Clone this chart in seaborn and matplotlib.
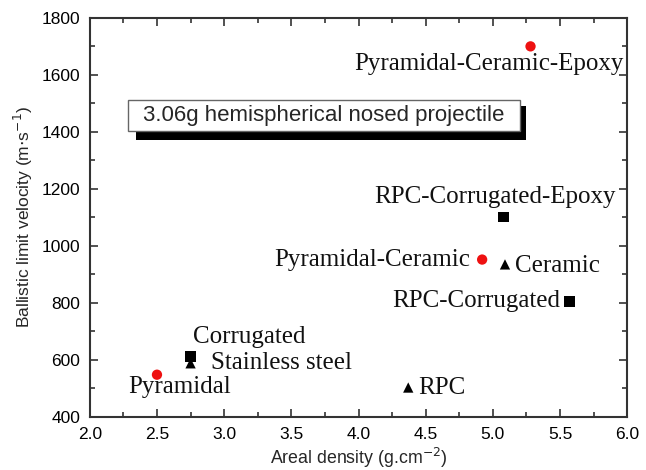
import numpy as np
import pandas as pd
import seaborn as sns
import matplotlib.pyplot as plt
from matplotlib.patches import Rectangle
from matplotlib.ticker import MultipleLocator

# data
names = ["Pyramidal-Ceramic-Epoxy", "RPC-Corrugated-Epoxy", "Pyramidal-Ceramic", "Ceramic",
         "RPC-Corrugated", "Corrugated", "Stainless steel", "Pyramidal", "RPC"]
density = [5.28, 5.08, 4.92, 5.09, 5.57, 2.75, 2.75, 2.50, 4.37]
velocity = [1700, 1102, 952, 935, 805, 612, 588, 548, 503]
kinds = ["dot", "square", "dot", "tri", "square", "square", "tri", "dot", "tri"]

# label placement: offset (pt) and alignment
offsets = [(-30, -13, "center"), (-6, 14, "center"), (-9, 0, "right"), (7, -1, "left"),
           (-7, 0, "right"), (42, 14, "center"), (15, 0, "left"), (16, -9, "center"), (7, 0, "left")]

df = pd.DataFrame({"name": names, "x": density, "y": velocity, "kind": kinds})

sns.set_style("ticks")
plt.rcParams["font.family"] = ["Liberation Sans", "DejaVu Sans"]

fig = plt.figure(figsize=(6.46, 4.70), dpi=100)
ax = fig.add_axes([0.139, 0.113, 0.832, 0.849])

sns.scatterplot(data=df, x="x", y="y", hue="kind", style="kind",
                palette={"dot": "#ee1111", "square": "black", "tri": "black"},
                markers={"dot": "o", "square": "s", "tri": "^"},
                s=55, linewidth=0, legend=False, ax=ax)

for (name, x, y), (dx, dy, ha) in zip(zip(names, density, velocity), offsets):
    ax.annotate(name, (x, y), xytext=(dx, dy), textcoords="offset points",
                ha=ha, va="center", fontsize=18, family="Liberation Serif", color="#111111")

ax.set_xlim(2.0, 6.0)
ax.set_ylim(400, 1800)
ax.xaxis.set_major_locator(MultipleLocator(0.5))
ax.xaxis.set_minor_locator(MultipleLocator(0.25))
ax.yaxis.set_major_locator(MultipleLocator(200))
ax.yaxis.set_minor_locator(MultipleLocator(100))
ax.tick_params(which="both", direction="in", top=True, right=True, colors="#333333",
               labelcolor="black", labelsize=12.5, width=1.2)
ax.tick_params(which="major", length=6, pad=7)
ax.tick_params(which="minor", length=3.5)
for sp in ax.spines.values():
    sp.set_linewidth(1.5)
    sp.set_color("#333333")

ax.set_xlabel("Areal density (g.cm$^{-2}$)", fontsize=12.8, labelpad=3)
ax.set_ylabel("Ballistic limit velocity (m$\\cdot$s$^{-1}$)", fontsize=12.5, labelpad=5)

# annotation box with a hard black shadow
ax.add_patch(Rectangle((0.0857, 0.6942), 0.726, 0.0852, transform=ax.transAxes,
                       fc="black", ec="none", zorder=4))
ax.add_patch(Rectangle((0.0708, 0.7168), 0.730, 0.0777, transform=ax.transAxes,
                       fc="white", ec="#666666", lw=1, zorder=5))
ax.text(0.0987, 0.756, "3.06g hemispherical nosed projectile", transform=ax.transAxes,
        fontsize=16, va="center", ha="left", zorder=6)

plt.savefig("out.png", dpi=100)
plt.close()
